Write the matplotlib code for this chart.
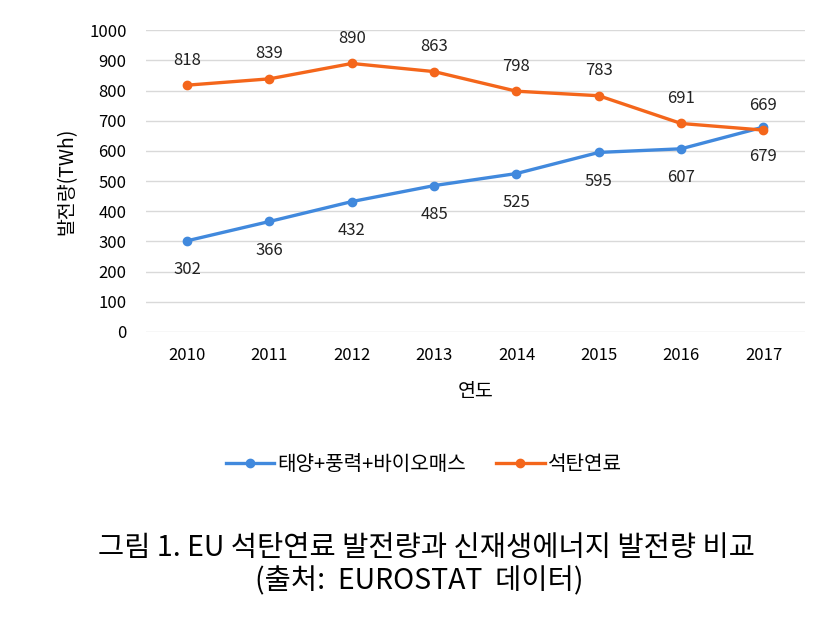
import matplotlib.pyplot as plt

plt.rcParams['font.family'] = ['Noto Sans CJK KR', 'DejaVu Sans']

years = ['2010', '2011', '2012', '2013', '2014', '2015', '2016', '2017']
renewables = [302, 366, 432, 485, 525, 595, 607, 679]
coal = [818, 839, 890, 863, 798, 783, 691, 669]

blue = '#4189DD'
orange = '#F4661B'

fig = plt.figure(figsize=(8.39, 6.18), dpi=100)
ax = fig.add_axes([0.174, 0.463, 0.785, 0.488])

x = range(len(years))
ax.plot(x, renewables, color=blue, lw=2.4, marker='o', ms=6, label='태양+풍력+바이오매스')
ax.plot(x, coal, color=orange, lw=2.4, marker='o', ms=6, label='석탄연료')

# data labels: coal above, renewables below
for i, v in enumerate(coal):
    ax.annotate(str(v), (i, v), xytext=(0, 18), textcoords='offset points',
                ha='center', va='center', fontsize=12, color='#222222')
for i, v in enumerate(renewables):
    ax.annotate(str(v), (i, v), xytext=(0, -21), textcoords='offset points',
                ha='center', va='center', fontsize=12, color='#222222')

ax.set_xlim(-0.5, 7.5)
ax.set_ylim(0, 1000)
ax.set_yticks(range(0, 1001, 100))
ax.set_xticks(list(x))
ax.set_xticklabels(years)
ax.tick_params(length=0, labelsize=12, pad=11)
ax.tick_params(axis='y', pad=14)
ax.grid(axis='y', color='#D9D9D9', lw=1)
ax.set_axisbelow(True)
for s in ax.spines.values():
    s.set_visible(False)

ax.set_xlabel('연도', fontsize=14, labelpad=12)
ax.set_ylabel('발전량(TWh)', fontsize=14, labelpad=8)

fig.legend(loc='center', bbox_to_anchor=(0.505, 0.249), ncol=2, frameon=False,
           fontsize=14.5, handlelength=2.4, columnspacing=1.5, handletextpad=0.15)

fig.text(0.508, 0.113, '그림 1. EU 석탄연료 발전량과 신재생에너지 발전량 비교',
         ha='center', va='center', fontsize=20.5)
fig.text(0.5, 0.06, '(출처:  EUROSTAT  데이터)',
         ha='center', va='center', fontsize=20.5)

fig.savefig('out.png', dpi=100)
